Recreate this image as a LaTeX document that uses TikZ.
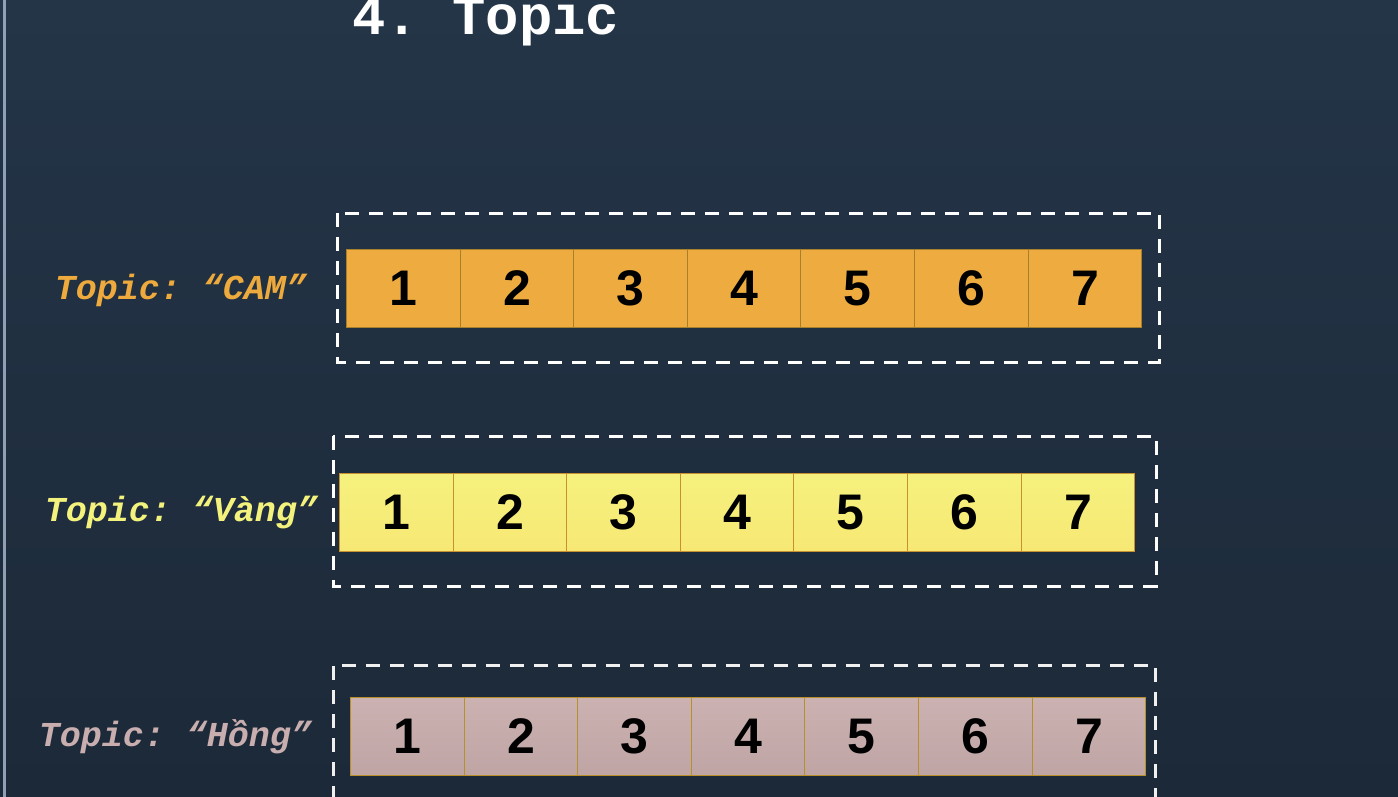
\documentclass[tikz,border=0pt]{standalone}
\usepackage{fontspec}
\setmainfont{Liberation Sans}
\newfontfamily\monofont{Liberation Mono}
\newfontfamily\digitfont{Liberation Sans}
\frenchspacing
\definecolor{bgtop}{HTML}{243548}
\definecolor{bgbot}{HTML}{1C2938}
\definecolor{camfill}{HTML}{EEAC40}
\definecolor{camline}{HTML}{A8802C}
\definecolor{vangfill}{HTML}{F6F17E}
\definecolor{vangline}{HTML}{C8902E}
\definecolor{hongfill}{HTML}{C9ADAD}
\definecolor{hongline}{HTML}{B8902A}
\definecolor{camtext}{HTML}{EEAA3C}
\definecolor{vangtext}{HTML}{F3F27C}
\definecolor{hongtext}{HTML}{C8AEAE}
\definecolor{edgeline}{HTML}{8FA0B5}
\begin{document}
\begin{tikzpicture}[x=1pt,y=-1pt,
  cell/.style={draw, line width=1pt, minimum width=113.6pt, minimum height=78pt,
    inner sep=0pt, anchor=north west, font=\digitfont\bfseries\fontsize{50}{50}\selectfont, text=black},
  dashbox/.style={draw=white, line width=3pt, dash pattern=on 14pt off 10pt},
  topiclabel/.style={font=\monofont\bfseries\itshape\fontsize{35}{40}\selectfont, inner sep=0pt}]
\useasboundingbox (0,0) rectangle (1398,797);
\shade[top color=bgtop, bottom color=bgbot] (0,0) rectangle (1398,797);
\draw[edgeline, line width=3pt] (4.5,0) -- (4.5,797);
% title
\node[anchor=base west, inner sep=0pt, text=white,
  font=\monofont\bfseries\fontsize{55.6}{60}\selectfont] (title) at (352,35) {4. Topic};
% row 1: CAM
\draw[dashbox] (337,213) rectangle (1159,362);
\foreach \i in {1,...,7}{
  \node[cell, fill=camfill, draw=camline] (a\i) at ({346+(\i-1)*113.6},249) {\i};
}
\node[topiclabel, text=camtext, anchor=east] (la) at (307,290) {Topic: “CAM”};
% row 2: Vang
\draw[dashbox] (333,436) rectangle (1156,586);
\foreach \i in {1,...,7}{
  \node[cell, top color=vangfill, bottom color=vangfill!92!orange, draw=vangline] (b\i) at ({339+(\i-1)*113.6},473) {\i};
}
\node[topiclabel, text=vangtext, anchor=east] (lb) at (318,513) {Topic: “Vàng”};
% row 3: Hong
\draw[dashbox, draw=white!88!gray] (333,800) -- (333,665) -- (1155,665) -- (1155,800);
\foreach \i in {1,...,7}{
  \node[cell, top color=hongfill!95!white, bottom color=hongfill!95!black, draw=hongline] (c\i) at ({350+(\i-1)*113.6},697) {\i};
}
\node[topiclabel, text=hongtext, anchor=east] (lc) at (312,737) {Topic: “Hồng”};
\end{tikzpicture}
\end{document}
